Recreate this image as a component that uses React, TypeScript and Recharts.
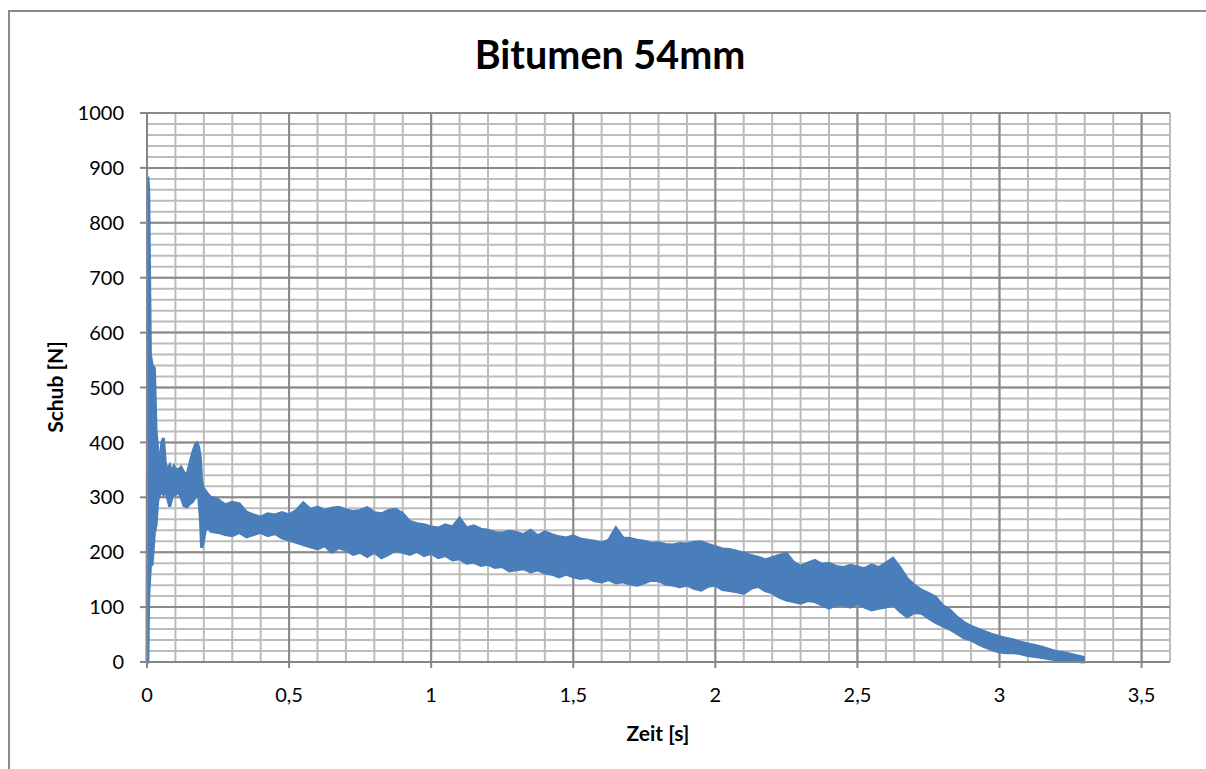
import React from 'react';
import { ComposedChart, Area, XAxis, YAxis, CartesianGrid } from 'recharts';

// Zeit [s]
const time = [
  0, 0.003, 0.006, 0.012, 0.018, 0.026, 0.032, 0.038, 0.045, 0.052, 0.058, 0.065, 0.072, 0.08, 0.088, 0.095,
  0.1, 0.11, 0.12, 0.13, 0.14, 0.15, 0.16, 0.17, 0.176, 0.182, 0.188, 0.192, 0.197, 0.205, 0.215,
  0.225, 0.25, 0.275, 0.3, 0.325, 0.35, 0.375, 0.4, 0.425, 0.45, 0.475, 0.5, 0.525, 0.55, 0.575, 0.6,
  0.625, 0.65, 0.675, 0.7, 0.725, 0.75, 0.775, 0.8, 0.825, 0.85, 0.875, 0.9, 0.925, 0.95, 0.975, 1.0,
  1.025, 1.05, 1.075, 1.1, 1.125, 1.15, 1.175, 1.2, 1.225, 1.25, 1.275, 1.3, 1.325, 1.35, 1.375, 1.4,
  1.425, 1.45, 1.475, 1.5, 1.525, 1.55, 1.575, 1.6, 1.625, 1.65, 1.675, 1.7, 1.725, 1.75, 1.775, 1.8,
  1.825, 1.85, 1.875, 1.9, 1.925, 1.95, 1.975, 2.0, 2.025, 2.05, 2.075, 2.1, 2.125, 2.15, 2.175, 2.2,
  2.225, 2.25, 2.275, 2.3, 2.325, 2.35, 2.375, 2.4, 2.425, 2.45, 2.475, 2.5, 2.525, 2.55, 2.575, 2.6,
  2.625, 2.65, 2.675, 2.7, 2.725, 2.75, 2.775, 2.8, 2.825, 2.85, 2.875, 2.9, 2.925, 2.95, 2.975, 3.0,
  3.025, 3.05, 3.075, 3.1, 3.125, 3.15, 3.175, 3.2, 3.225, 3.25, 3.275, 3.3,
];

// Schub [N] – lower edge of the noisy band
const schubLow = [
  0, 0, 120, 175, 178, 235, 250, 295, 305, 310, 305, 312, 300, 283, 300, 312,
  305, 310, 300, 285, 283, 288, 292, 300, 312, 300, 260, 208, 215, 240, 245,
  238, 236, 232, 230, 236, 228, 232, 236, 230, 234, 226, 222, 218, 214, 210, 206,
  212, 200, 208, 204, 196, 200, 192, 200, 190, 196, 204, 200, 196, 202, 194, 198,
  190, 194, 186, 188, 180, 182, 176, 178, 172, 174, 166, 168, 170, 164, 168, 162,
  160, 155, 160, 155, 152, 154, 148, 146, 150, 144, 146, 142, 140, 144, 149, 148,
  142, 140, 137, 140, 134, 131, 138, 140, 132, 130, 128, 125, 134, 138, 130, 126,
  118, 113, 110, 107, 112, 110, 104, 98, 104, 105, 100, 107, 100, 95, 98, 100,
  105, 92, 82, 90, 89, 80, 72, 66, 60, 52, 44, 40, 33, 27, 22, 18,
  17, 17, 15, 12, 10, 8, 6, 4, 3, 2, 1, 0,
];

// Schub [N] – upper edge of the noisy band
const schubHigh = [
  0, 884, 860, 560, 541, 535, 420, 385, 360, 400, 408, 360, 350, 358, 345, 356,
  352, 350, 355, 345, 340, 360, 380, 396, 399, 392, 370, 330, 318, 312, 305,
  300, 296, 286, 291, 288, 273, 268, 264, 270, 268, 272, 268, 276, 290, 278, 282,
  276, 280, 282, 277, 274, 276, 281, 272, 270, 276, 278, 270, 256, 252, 250, 246,
  244, 250, 246, 262, 244, 248, 242, 240, 236, 235, 238, 236, 232, 240, 230, 237,
  232, 228, 226, 230, 224, 222, 220, 217, 222, 244, 226, 225, 222, 220, 216, 217,
  214, 213, 216, 215, 218, 219, 214, 210, 206, 205, 202, 198, 194, 191, 186, 190,
  194, 198, 182, 174, 180, 185, 178, 180, 174, 172, 176, 173, 170, 177, 172, 180,
  189, 172, 152, 140, 131, 125, 118, 103, 95, 82, 72, 65, 60, 55, 50, 46,
  43, 40, 36, 33, 30, 27, 23, 19, 17, 14, 11, 8,
];

const xTicks = [0, 0.5, 1, 1.5, 2, 2.5, 3, 3.5];
const yTicks = [0, 100, 200, 300, 400, 500, 600, 700, 800, 900, 1000];

// minor gridline positions (every 0,1 s and every 20 N)
const xMinorVals = Array.from({ length: 37 }, (_, i) => i / 10);
const yMinorVals = Array.from({ length: 51 }, (_, i) => i * 20);

const data = time.map((t, i) => ({ t, band: [schubLow[i], schubHigh[i]] }));

const FONT = 'Lato, "Open Sans", sans-serif';
const BLUE = '#4a7ebb';
const AXIS = '#868686';

const pageCss =
  'html{overflow:hidden;outline:none!important;border:none!important;}' +
  'body{overflow:hidden;width:1260px;height:800px;margin:8px;outline:none!important;border:none!important;box-shadow:none!important;}' +
  '#root{width:1260px;height:800px;outline:none!important;border:none!important;box-shadow:none!important;}';

export default function App() {
  return (
    <div style={{ position: 'relative', width: 1250, height: 792, overflow: 'hidden', fontFamily: FONT }}>
      <style>{pageCss}</style>
      <div
        style={{
          position: 'absolute',
          left: 0,
          top: 2,
          width: 1250,
          height: 790,
          borderLeft: '2px solid #8c8c8c',
          borderTop: '2px solid #8c8c8c',
          boxSizing: 'border-box',
        }}
      />
      <div style={{ position: 'absolute', left: 0, top: 0 }}>
        <ComposedChart
          width={1198}
          height={753}
          data={data}
          margin={{ top: 105, right: 36, left: 79, bottom: 69 }}
        >
          <CartesianGrid
            horizontalValues={yMinorVals}
            verticalValues={xMinorVals}
            stroke="#bcbcbc"
            strokeWidth={2}
          />
          <CartesianGrid
            horizontalValues={yTicks}
            verticalValues={xTicks}
            stroke="#8a8a8a"
            strokeWidth={2}
          />
          <XAxis
            dataKey="t"
            type="number"
            domain={[0, 3.6]}
            ticks={xTicks}
            interval={0}
            tickFormatter={(v: number) => String(v).replace('.', ',')}
            stroke={AXIS}
            strokeWidth={2}
            tickSize={6}
            tickMargin={20}
            height={30}
            tick={{ fill: '#000', fontSize: 20, fontFamily: FONT }}
          />
          <YAxis
            type="number"
            domain={[0, 1000]}
            ticks={yTicks}
            interval={0}
            stroke={AXIS}
            strokeWidth={2}
            tickSize={7}
            tickMargin={16}
            width={60}
            tick={{ fill: '#000', fontSize: 20, fontFamily: FONT }}
          />
          <Area
            dataKey="band"
            type="linear"
            fill={BLUE}
            fillOpacity={1}
            stroke={BLUE}
            strokeWidth={3}
            dot={false}
            activeDot={false}
            isAnimationActive={false}
          />
        </ComposedChart>
      </div>
      <svg
        width={1198}
        height={753}
        style={{ position: 'absolute', left: 0, top: 0, pointerEvents: 'none' }}
      >
        <text x={602} y={61.3} textAnchor="middle" fontSize={39.5} fontWeight="bold" fontFamily={FONT} fill="#000">
          Bitumen 54mm
        </text>
        <text x={650} y={732.5} textAnchor="middle" fontSize={21} fontWeight="bold" fontFamily={FONT} fill="#000">
          Zeit [s]
        </text>
        <text
          x={0}
          y={0}
          transform="translate(55.3 379) rotate(-90)"
          textAnchor="middle"
          fontSize={21}
          fontWeight="bold"
          fontFamily={FONT}
          fill="#000"
        >
          Schub [N]
        </text>
      </svg>
    </div>
  );
}
